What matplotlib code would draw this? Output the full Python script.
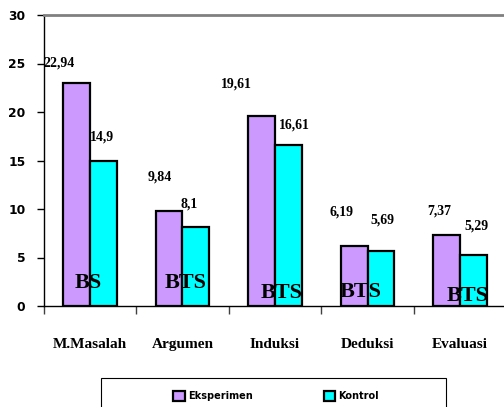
import matplotlib
matplotlib.use("Agg")
import matplotlib.pyplot as plt
import numpy as np
from matplotlib.patches import Rectangle, Patch

categories = ["M.Masalah", "Argumen", "Induksi", "Deduksi", "Evaluasi"]
eksperimen = [22.94, 9.84, 19.61, 6.19, 7.37]
kontrol = [14.9, 8.1, 16.61, 5.69, 5.29]
eks_labels = ["22,94", "9,84", "19,61", "6,19", "7,37"]
kon_labels = ["14,9", "8,1", "16,61", "5,69", "5,29"]
sig_labels = ["BS", "BTS", "BTS", "BTS", "BTS"]

# label offsets in pixels (dx, dy) relative to bar top
eks_off = [(-17.6, 20.5), (-9.6, 33.6), (-25.6, 31.8), (-13, 34), (-7.6, 23.5)]
kon_off = [(-1, 24.5), (-7, 23.4), (5.6, 19.9), (1, 30.8), (2.6, 28.7)]
sig_off = [(-2, 23), (3, 23), (7, 13), (-7, 14), (7, 10)]

PURPLE = "#cc99ff"
CYAN = "#00ffff"

fig = plt.figure(figsize=(5.04, 4.07), dpi=100)
ax = fig.add_axes([43.5/504, 1-306/407, 463/504, 291/407])

x = np.arange(len(categories))
w = 0.29
ax.bar(x - w/2, eksperimen, w, color=PURPLE, edgecolor="black", linewidth=1.6, zorder=3)
ax.bar(x + w/2, kontrol, w, color=CYAN, edgecolor="black", linewidth=1.6, zorder=3)

ax.set_xlim(-0.5, 4.5)
ax.set_ylim(0, 30)
ax.set_yticks([0, 5, 10, 15, 20, 25, 30])
ax.set_yticklabels(["0", "5", "10", "15", "20", "25", "30"], fontsize=8.8, fontweight="bold", family="DejaVu Sans")
ax.tick_params(axis="y", length=5, width=1, pad=8)

ax.set_xticks(x)
ax.set_xticklabels(categories, fontsize=11, fontweight="bold", family="Liberation Serif")
ax.tick_params(axis="x", which="major", length=0, pad=23)
ax.set_xticks(np.arange(-0.5, 5.0, 1.0), minor=True)
ax.tick_params(axis="x", which="minor", length=6, width=1, color="#404040")

for s in ["left", "bottom"]:
    ax.spines[s].set_color("black")
    ax.spines[s].set_linewidth(1.0)
ax.spines["top"].set_color("#808080")
ax.spines["top"].set_linewidth(2.0)
ax.spines["right"].set_visible(False)

pt = 0.72
for i in range(len(categories)):
    ax.annotate(eks_labels[i], (x[i] - w/2, eksperimen[i]),
                xytext=(eks_off[i][0]*pt, eks_off[i][1]*pt), textcoords="offset points",
                ha="center", va="center", fontsize=10, fontweight="bold", family="Liberation Serif", zorder=5)
    ax.annotate(kon_labels[i], (x[i] + w/2, kontrol[i]),
                xytext=(kon_off[i][0]*pt, kon_off[i][1]*pt), textcoords="offset points",
                ha="center", va="center", fontsize=10, fontweight="bold", family="Liberation Serif", zorder=5)
    ax.annotate(sig_labels[i], (x[i], 0),
                xytext=(sig_off[i][0]*pt, sig_off[i][1]*pt), textcoords="offset points",
                ha="center", va="center", fontsize=16, fontweight="bold", family="Liberation Serif", zorder=5)

# legend box
fig.patches.append(Rectangle((101/504, -0.05), 345/504, (407-378)/407 + 0.05,
                             transform=fig.transFigure, facecolor="white",
                             edgecolor="black", linewidth=0.8))
handles = [Patch(facecolor=PURPLE, edgecolor="black", linewidth=1.6, label="Eksperimen"),
           Patch(facecolor=CYAN, edgecolor="black", linewidth=1.6, label="Kontrol")]
leg = fig.legend(handles=handles, loc="center", bbox_to_anchor=(276/504, 1-396/407),
                 ncol=2, frameon=False, prop={"family": "DejaVu Sans", "weight": "bold", "size": 7},
                 handlelength=1.2, handleheight=1.2, handletextpad=0.3, columnspacing=7.3)

fig.savefig("out.png", dpi=100)
